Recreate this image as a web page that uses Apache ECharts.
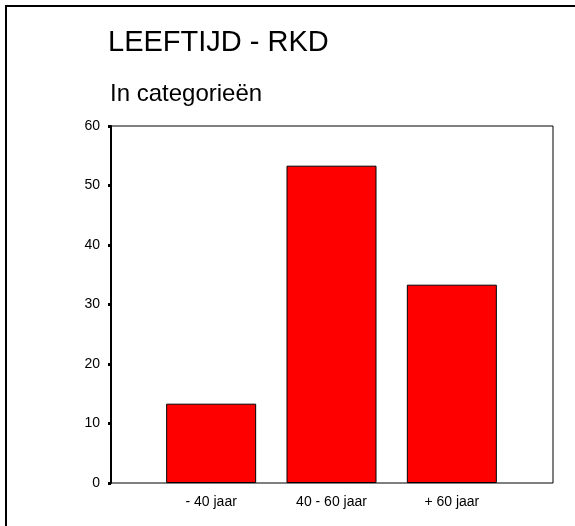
<!DOCTYPE html>
<html>
<head>
<meta charset="utf-8">
<script src="https://cdn.jsdelivr.net/npm/echarts@6/dist/echarts.min.js"></script>
<style>
  html, body { margin: 0; padding: 0; background: #fff; }
  #chart { width: 575px; height: 526px; }
</style>
</head>
<body>
<div id="chart"></div>
<script>
// data (percentages)
var categories = ['- 40 jaar', '40 - 60 jaar', '+ 60 jaar'];
var values = [13.33, 53.33, 33.33];
var yMin = 0, yMax = 60, yStep = 10;

var font = "'Liberation Sans', Arial, sans-serif";

var myChart = echarts.init(document.getElementById('chart'));
myChart.setOption({
    animation: false,
    backgroundColor: '#fff',
    title: [
        { text: 'LEEFTIJD - RKD', left: 108, top: 28, padding: 0,
          textStyle: { fontFamily: font, fontSize: 29, fontWeight: 'normal', color: '#000' } },
        { text: 'In categorieën', left: 110, top: 82, padding: 0,
          textStyle: { fontFamily: font, fontSize: 24, fontWeight: 'normal', color: '#000' } }
    ],
    graphic: [
        { type: 'polyline', shape: { points: [[6, 526], [6, 6], [575, 6]] },
          style: { stroke: '#000', lineWidth: 2, fill: null } }
    ],
    grid: [
        // frame + y axis
        { left: 111, right: 22, top: 126, bottom: 43, show: true,
          borderColor: '#000', borderWidth: 1, backgroundColor: 'transparent' },
        // bars
        { left: 151, right: 63, top: 126, bottom: 43 }
    ],
    xAxis: [
        { gridIndex: 0, type: 'value', show: false },
        { gridIndex: 1, type: 'category', data: categories,
          axisLine: { show: false },
          axisTick: { alignWithLabel: true, length: 4, lineStyle: { color: '#000', width: 3 } },
          axisLabel: { fontFamily: font, fontSize: 14, color: '#000', margin: 12 } }
    ],
    yAxis: [
        { gridIndex: 0, type: 'value', min: yMin, max: yMax, interval: yStep,
          splitLine: { show: false },
          axisLine: { show: true, lineStyle: { color: '#000', width: 2 } },
          axisTick: { show: true, length: 3, lineStyle: { color: '#000', width: 3 } },
          axisLabel: { fontFamily: font, fontSize: 14, color: '#000', margin: 11 } },
        { gridIndex: 1, type: 'value', min: yMin, max: yMax, show: false }
    ],
    series: [
        { type: 'bar', xAxisIndex: 1, yAxisIndex: 1, data: values, barWidth: 90,
          itemStyle: { color: '#ff0000', borderColor: '#000', borderWidth: 1 } }
    ]
});
</script>
</body>
</html>
